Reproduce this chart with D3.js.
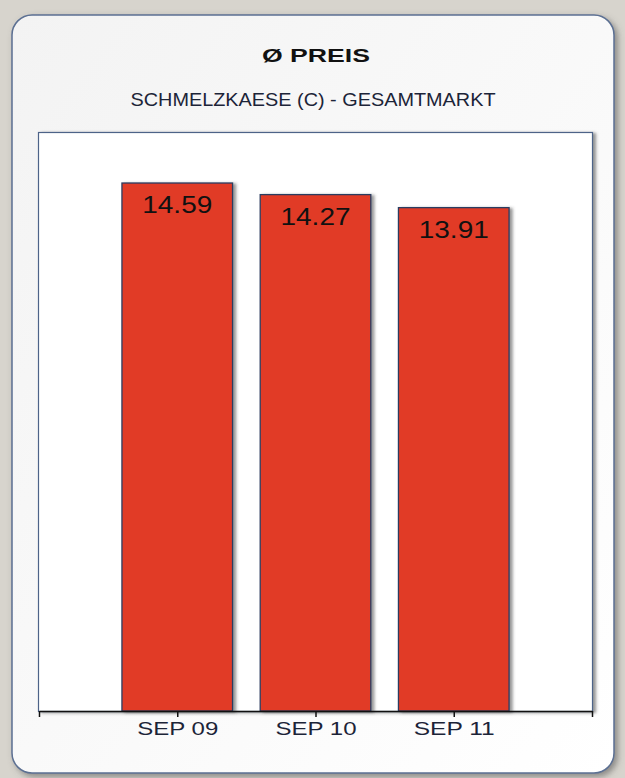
<!DOCTYPE html>
<html>
<head>
<meta charset="utf-8">
<script src="https://cdn.jsdelivr.net/npm/d3@7"></script>
<style>
  body { margin: 0; background: #d7d4cd; }
  svg { display: block; font-family: "Liberation Sans", Arial, sans-serif; }
</style>
</head>
<body>
<svg></svg>
<script>
var width = 625;
var height = 778;

// chart data
var categories = ['SEP 09', 'SEP 10', 'SEP 11'];
var values = [14.59, 14.27, 13.91];
var yMax = 16;
var title = 'Ø PREIS';
var subtitle = 'SCHMELZKAESE (C) - GESAMTMARKT';

var svg = d3.select('svg')
  .attr('width', width)
  .attr('height', height);

var defs = svg.append('defs');

var cardGrad = defs.append('linearGradient')
  .attr('id', 'cardGrad')
  .attr('x1', 0).attr('y1', 0).attr('x2', 1).attr('y2', 1);
cardGrad.append('stop').attr('offset', '0%').attr('stop-color', '#f3f3f3');
cardGrad.append('stop').attr('offset', '100%').attr('stop-color', '#ffffff');

var shadow = defs.append('filter')
  .attr('id', 'shadow')
  .attr('x', '-10%').attr('y', '-10%')
  .attr('width', '130%').attr('height', '130%');
shadow.append('feDropShadow')
  .attr('dx', 3).attr('dy', 1)
  .attr('stdDeviation', 1.5)
  .attr('flood-color', '#444')
  .attr('flood-opacity', 0.55);

var cardShadow = defs.append('filter')
  .attr('id', 'cardShadow')
  .attr('x', '-5%').attr('y', '-5%')
  .attr('width', '110%').attr('height', '110%');
cardShadow.append('feDropShadow')
  .attr('dx', 3).attr('dy', 3)
  .attr('stdDeviation', 3)
  .attr('flood-color', '#555')
  .attr('flood-opacity', 0.6);

// lower part of the page background is a bit darker
svg.append('rect')
  .attr('x', 0).attr('y', 0)
  .attr('width', width).attr('height', height)
  .attr('fill', '#d7d4cd');

// card
svg.append('rect')
  .attr('x', 12).attr('y', 15)
  .attr('width', 602).attr('height', 758)
  .attr('rx', 20).attr('ry', 20)
  .attr('fill', 'url(#cardGrad)')
  .attr('stroke', '#5b6f92')
  .attr('stroke-width', 1.5)
  .attr('filter', 'url(#cardShadow)');

// titles
svg.append('text')
  .attr('x', 316).attr('y', 62)
  .attr('text-anchor', 'middle')
  .attr('font-size', 19)
  .attr('font-weight', 'bold')
  .attr('fill', '#111')
  .attr('textLength', 108)
  .attr('lengthAdjust', 'spacingAndGlyphs')
  .text(title);

svg.append('text')
  .attr('x', 313).attr('y', 106)
  .attr('text-anchor', 'middle')
  .attr('font-size', 18)
  .attr('fill', '#1c2438')
  .attr('textLength', 365)
  .attr('lengthAdjust', 'spacingAndGlyphs')
  .text(subtitle);

// plot area
var plot = { left: 39, right: 592, top: 132, bottom: 711 };

svg.append('rect')
  .attr('x', plot.left - 0.5).attr('y', plot.top + 0.5)
  .attr('width', plot.right - plot.left + 1).attr('height', plot.bottom - plot.top)
  .attr('fill', '#fff')
  .attr('stroke', '#4e6488')
  .attr('stroke-width', 1.2)
  .attr('filter', 'url(#shadow)');

var x = d3.scaleLinear()
  .domain([0, categories.length + 1])
  .range([plot.left, plot.right]);

var y = d3.scaleLinear()
  .domain([0, yMax])
  .range([plot.bottom, plot.top]);

var barW = (x(1) - x(0)) * 0.8;

var bars = svg.append('g')
  .selectAll('rect')
  .data(values)
  .enter().append('rect')
    .attr('x', (d, i) => x(i + 1) - barW / 2)
    .attr('y', d => y(d))
    .attr('width', barW)
    .attr('height', d => y(0) - y(d))
    .attr('fill', '#e13a28')
    .attr('stroke', '#2c3c60')
    .attr('stroke-width', 1.3)
    .attr('filter', 'url(#shadow)');

svg.append('g')
  .selectAll('text')
  .data(values)
  .enter().append('text')
    .attr('x', (d, i) => x(i + 1))
    .attr('y', d => y(d) + 30)
    .attr('text-anchor', 'middle')
    .attr('font-size', 24)
    .attr('fill', '#111')
    .attr('textLength', 70)
    .attr('lengthAdjust', 'spacingAndGlyphs')
    .text(d => d.toFixed(2));

// x axis
var xAxis = d3.axisBottom(x)
  .tickValues(d3.range(0, categories.length + 2))
  .tickSize(6)
  .tickSizeOuter(0)
  .tickPadding(5)
  .tickFormat(i => categories[i - 1] || '');

var gx = svg.append('g')
  .attr('transform', 'translate(0,' + plot.bottom + ')')
  .call(xAxis);

gx.select('.domain').attr('stroke', '#111').attr('stroke-width', 1.5);
gx.selectAll('.tick line').attr('stroke', '#111').attr('stroke-width', 1.5);
gx.selectAll('.tick text')
  .attr('font-family', '"Liberation Sans", Arial, sans-serif')
  .attr('font-size', 18)
  .attr('fill', '#1c2438')
  .filter(i => categories[i - 1])
  .attr('textLength', 81)
  .attr('lengthAdjust', 'spacingAndGlyphs');
</script>
</body>
</html>
